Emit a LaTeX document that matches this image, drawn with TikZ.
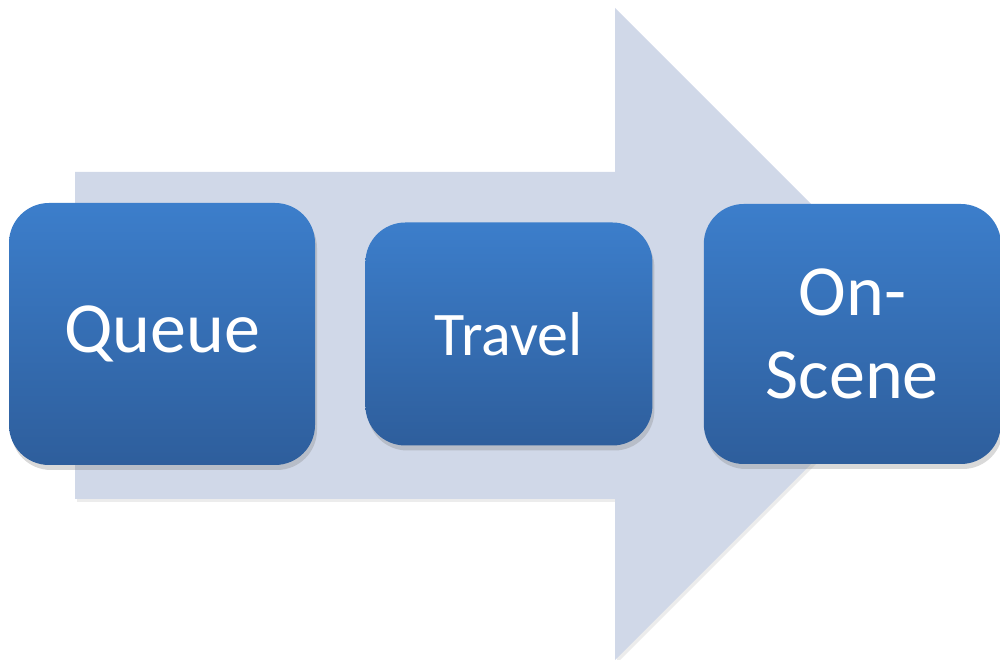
\documentclass[tikz,border=0pt]{standalone}
\usepackage{fontspec}
\setmainfont{Carlito}
\usepackage{xcolor}
\usepackage{tikz}
\usetikzlibrary{shapes,arrows.meta,positioning,shadows}

\definecolor{flowgray}{HTML}{D0D8E8}
\definecolor{boxtop}{HTML}{3C7ECB}
\definecolor{boxbottom}{HTML}{2E5E9C}

\begin{document}
\begin{tikzpicture}[
    x=1pt, y=1pt,
    node distance=50pt,
    stage/.style={rectangle, rounded corners=40pt, top color=boxtop, bottom color=boxbottom, text=white, align=center, drop shadow={shadow xshift=2pt, shadow yshift=-5pt, opacity=0.3}, font=\fontsize{72}{83}\selectfont}
]
\useasboundingbox (0,0) rectangle (1000,660);
\fill[flowgray, drop shadow={shadow xshift=2pt, shadow yshift=-3pt, opacity=0.15}] (75,161) -- (75,488) -- (615,488) -- (615,652) -- (941,326) -- (615,0) -- (615,161) -- cycle;

\node[stage, minimum width=306pt, minimum height=262pt] (queue) at (162,326) {Queue};
\node[stage, minimum width=287pt, minimum height=223pt, font=\fontsize{62}{72}\selectfont, right=50pt of queue] (travel) {Travel};
\node[stage, minimum width=297pt, minimum height=260pt, right=51pt of travel] (onscene) {On-\\Scene};
\end{tikzpicture}
\end{document}
